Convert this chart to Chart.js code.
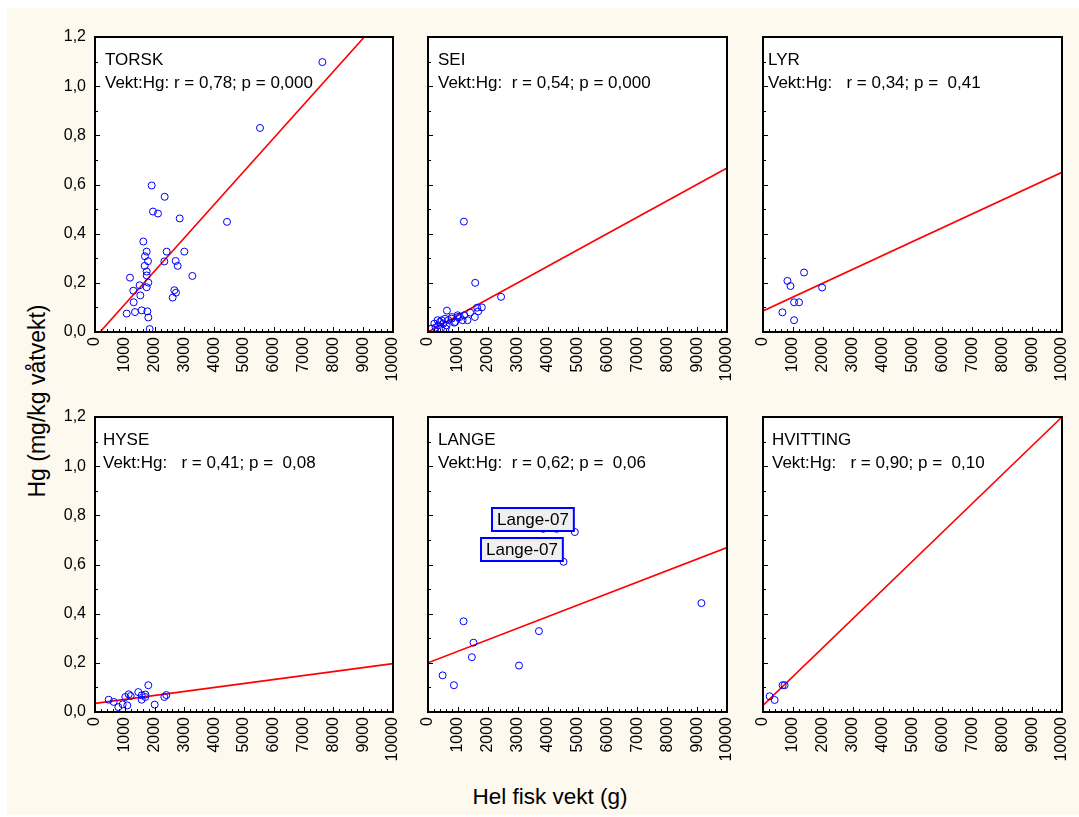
<!DOCTYPE html>
<html>
<head>
<meta charset="utf-8">
<script src="https://cdn.jsdelivr.net/npm/chart.js@4.4.0/dist/chart.umd.min.js"></script>
<style>
  html, body { margin: 0; padding: 0; background: #fff; }
  #page { position: relative; width: 1079px; height: 817px; overflow: hidden; background: #fff;
          font-family: Arial, "Liberation Sans", sans-serif; }
  #bg { position: absolute; left: 7px; top: 8px; width: 1072px; height: 807px; background: #fdf9ee; }
  .panel { position: absolute; }
  #ytitle { position: absolute; left: 37px; top: 401px; transform: translate(-50%, -50%) rotate(-90deg);
            font-size: 23px; white-space: nowrap; color: #000; }
  #xtitle { position: absolute; left: 550px; top: 797px; transform: translate(-50%, -50%);
            font-size: 22.5px; white-space: nowrap; color: #000; }
</style>
</head>
<body>
<div id="page">
  <div id="bg"></div>
  <div id="ytitle">Hg (mg/kg våtvekt)</div>
  <div id="xtitle">Hel fisk vekt (g)</div>
</div>
<script>
// data
const panelNames = ['TORSK', 'SEI', 'LYR', 'HYSE', 'LANGE', 'HVITTING'];
const statTexts = [
  'Vekt:Hg: r = 0,78; p = 0,000',
  'Vekt:Hg:  r = 0,54; p = 0,000',
  'Vekt:Hg:   r = 0,34; p =  0,41',
  'Vekt:Hg:   r = 0,41; p =  0,08',
  'Vekt:Hg:  r = 0,62; p =  0,06',
  'Vekt:Hg:   r = 0,90; p =  0,10'
];

const torskX = [7630, 5537, 4430, 1902, 2338, 1946, 2114, 2842, 1622, 1734, 2405, 2997, 1678, 1779, 2327, 2707, 2774, 1667,
                1734, 1734, 1175, 3267, 1790, 1499, 1286, 1734, 2662, 2718, 2606, 1521, 1297, 1063, 1342, 1566, 1756, 1790, 1835];
const torskY = [1.098, 0.83, 0.448, 0.596, 0.55, 0.49, 0.482, 0.462, 0.368, 0.327, 0.327, 0.327, 0.308, 0.288, 0.287, 0.289, 0.269, 0.269,
                0.246, 0.23, 0.221, 0.228, 0.201, 0.19, 0.168, 0.182, 0.17, 0.16, 0.14, 0.149, 0.121, 0.075, 0.081, 0.088, 0.084, 0.059, 0.012];

const seiX = [1200, 1578, 2444, 633, 1800, 1644, 1678, 1567, 1411, 1322, 1156, 989, 878, 789, 678, 567, 511, 400, 344, 256,
              211, 322, 456, 622, 589, 433, 122, 1067, 1000, 1211, 911, 800];
const seiY = [0.449, 0.2, 0.143, 0.087, 0.1, 0.099, 0.084, 0.061, 0.079, 0.048, 0.048, 0.068, 0.038, 0.054, 0.048, 0.054, 0.034, 0.041, 0.027, 0.018,
              0.034, 0.048, 0.048, 0.027, 0.014, 0.014, 0.014, 0.061, 0.061, 0.068, 0.041, 0.061];

const lyrX = [1374, 817, 918, 1977, 1039, 1206, 650, 1039];
const lyrY = [0.242, 0.208, 0.187, 0.181, 0.121, 0.121, 0.08, 0.048];

const hyseX = [459, 627, 782, 929, 1017, 1084, 1131, 1198, 1453, 1567, 1567, 1688, 1688, 1789, 2003, 2327, 2394];
const hyseY = [0.05, 0.041, 0.02, 0.031, 0.061, 0.027, 0.072, 0.065, 0.081, 0.068, 0.05, 0.071, 0.061, 0.109, 0.03, 0.061, 0.069];

const langeX = [489, 867, 1189, 1522, 1467, 3044, 3711, 3850, 4300, 4533, 4911, 9144];
const langeY = [0.149, 0.109, 0.369, 0.282, 0.223, 0.189, 0.329, 0.745, 0.745, 0.611, 0.732, 0.443];
const langeLabelIdx = [10, 9];
const langeLabelText = ['Lange-07', 'Lange-07'];

const hvitX = [221, 388, 656, 722];
const hvitY = [0.064, 0.049, 0.109, 0.109];

// regression lines: Hg = a + b * (vekt / 1000)
const lineIntercepts = [-0.0227, 0.0, 0.0855, 0.035, 0.2, 0.027];
const lineSlopes = [0.1353, 0.0667, 0.0564, 0.0162, 0.0469, 0.1173];

const xTicks = [0, 1000, 2000, 3000, 4000, 5000, 6000, 7000, 8000, 9000, 10000];
const yTicks = [0, 0.2, 0.4, 0.6, 0.8, 1.0, 1.2];
const yTickLabels = ['0,0', '0,2', '0,4', '0,6', '0,8', '1,0', '1,2'];

const seriesX = [torskX, seiX, lyrX, hyseX, langeX, hvitX];
const seriesY = [torskY, seiY, lyrY, hyseY, langeY, hvitY];

// layout (pixels)
const colLeft = [95, 428, 763], colRight = [393, 727, 1062];
const rowTop = [37, 417], rowBottom = [332, 712];
const textOffset = [10, 10, 5, 8, 10, 9];
const padL = 60, padT = 10, padR = 12, padB = 80;
const FONT = 'Arial, "Liberation Sans", sans-serif';

// white plot area, frame, inner ticks, panel text and point labels
const panelDeco = {
  id: 'panelDeco',
  beforeDatasetsDraw(chart) {
    const { ctx, chartArea: a } = chart;
    ctx.save();
    ctx.fillStyle = '#fff';
    ctx.fillRect(a.left, a.top, a.right - a.left, a.bottom - a.top);
    ctx.restore();
  },
  afterDatasetsDraw(chart, args, o) {
    const { ctx, chartArea: a, scales: { x, y } } = chart;
    ctx.save();
    ctx.strokeStyle = '#000';
    ctx.lineWidth = 1;
    ctx.beginPath();
    for (let v = 0; v <= 10000; v += 200) {
      const px = Math.round(x.getPixelForValue(v)) + 0.5;
      const len = v % 1000 === 0 ? 5 : 3;
      ctx.moveTo(px, a.bottom); ctx.lineTo(px, a.bottom - len);
    }
    for (let k = 0; k <= 12; k++) {
      const py = Math.round(y.getPixelForValue(k / 10)) + 0.5;
      const len = k % 2 === 0 ? 5 : 3;
      ctx.moveTo(a.left, py); ctx.lineTo(a.left + len, py);
    }
    ctx.stroke();
    ctx.lineWidth = 2;
    ctx.strokeRect(a.left, a.top, a.right - a.left, a.bottom - a.top);

    ctx.fillStyle = '#000';
    ctx.font = '17px ' + FONT;
    ctx.textBaseline = 'alphabetic';
    ctx.textAlign = 'left';
    ctx.fillText(panelNames[o.idx], a.left + textOffset[o.idx], a.top + 28);
    ctx.fillText(statTexts[o.idx], a.left + textOffset[o.idx], a.top + 51);

    if (o.idx === 4) {
      langeLabelIdx.forEach((pi, j) => {
        const px = x.getPixelForValue(langeX[pi]);
        const py = y.getPixelForValue(langeY[pi]);
        const w = ctx.measureText(langeLabelText[j]).width + 10;
        const h = 23;
        const bx = Math.round(px - 1 - w), by = Math.round(py - 1 - h);
        ctx.fillStyle = '#f0f0f0';
        ctx.fillRect(bx, by, w, h);
        ctx.strokeStyle = '#0000ff';
        ctx.lineWidth = 2;
        ctx.strokeRect(bx, by, w, h);
        ctx.fillStyle = '#000';
        ctx.fillText(langeLabelText[j], bx + 5, by + 17);
      });
    }
    ctx.restore();
  }
};

function makePanel(idx) {
  const col = idx % 3, row = Math.floor(idx / 3);
  const w = colRight[col] - colLeft[col] + padL + padR;
  const h = rowBottom[row] - rowTop[row] + padT + padB;
  const div = document.createElement('div');
  div.className = 'panel';
  div.style.left = (colLeft[col] - padL) + 'px';
  div.style.top = (rowTop[row] - padT) + 'px';
  div.style.width = w + 'px';
  div.style.height = h + 'px';
  const canvas = document.createElement('canvas');
  canvas.width = w; canvas.height = h;
  canvas.style.width = w + 'px'; canvas.style.height = h + 'px';
  div.appendChild(canvas);
  document.getElementById('page').appendChild(div);

  const pts = seriesX[idx].map((v, i) => ({ x: v, y: seriesY[idx][i] }));
  const a = lineIntercepts[idx], b = lineSlopes[idx];
  const line = [{ x: 0, y: a }, { x: 10000, y: a + b * 10 }];

  new Chart(canvas, {
    type: 'scatter',
    data: {
      datasets: [
        {
          data: line, showLine: true, pointRadius: 0, borderColor: '#ff0000',
          borderWidth: 1.6, order: 2
        },
        {
          data: pts, pointRadius: 3.5, pointHoverRadius: 3.5, pointBorderWidth: 1,
          pointBorderColor: '#0000ff', pointBackgroundColor: 'rgba(0,0,0,0)', order: 1
        }
      ]
    },
    options: {
      responsive: false,
      animation: false,
      devicePixelRatio: 1,
      layout: { padding: { top: padT, right: padR, left: 0, bottom: 0 } },
      plugins: { legend: { display: false }, tooltip: { enabled: false }, panelDeco: { idx: idx } },
      scales: {
        x: {
          type: 'linear', min: 0, max: 10000,
          grid: { display: false, drawTicks: false }, border: { display: false },
          afterBuildTicks: s => { s.ticks = xTicks.map(v => ({ value: v })); },
          afterFit: s => { s.height = padB; s.paddingLeft = 0; s.paddingRight = 0; },
          ticks: {
            autoSkip: false, minRotation: 90, maxRotation: 90, padding: 5, color: '#000',
            font: { family: FONT, size: 16 }, callback: v => String(v)
          }
        },
        y: {
          type: 'linear', min: 0, max: 1.2,
          grid: { display: false, drawTicks: false }, border: { display: false },
          afterBuildTicks: s => { s.ticks = yTicks.map(v => ({ value: v })); },
          afterFit: s => { s.width = padL; s.paddingTop = 0; s.paddingBottom = 0; },
          ticks: {
            display: col === 0, padding: 9, color: '#000',
            font: { family: FONT, size: 16 }, callback: (v, i) => yTickLabels[i]
          }
        }
      }
    },
    plugins: [panelDeco]
  });
}

for (let i = 0; i < 6; i++) makePanel(i);
</script>
</body>
</html>
